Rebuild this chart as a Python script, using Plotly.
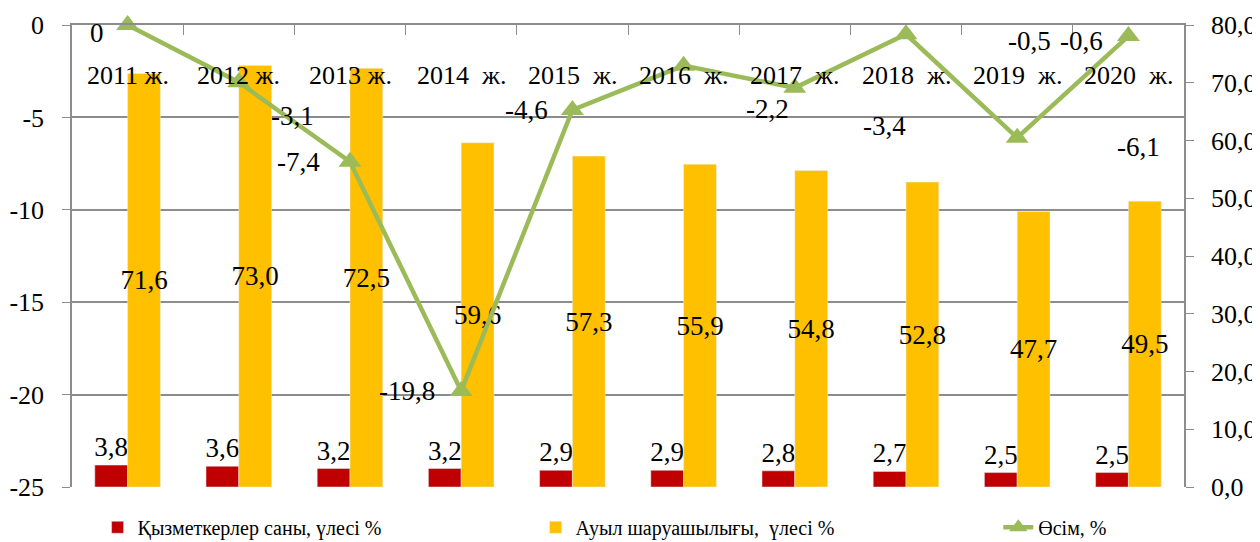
import plotly.graph_objects as go

# categories and series
YEARS = ["2011 ж.", "2012 ж.", "2013 ж.", "2014  ж.", "2015  ж.",
         "2016  ж.", "2017  ж.", "2018  ж.", "2019  ж.", "2020  ж."]
STAFF_SHARE = [3.8, 3.6, 3.2, 3.2, 2.9, 2.9, 2.8, 2.7, 2.5, 2.5]
AGRI_SHARE = [71.6, 73.0, 72.5, 59.6, 57.3, 55.9, 54.8, 52.8, 47.7, 49.5]
GROWTH = [0, -3.1, -7.4, -19.8, -4.6, -2.2, -3.4, -0.5, -6.1, -0.6]

LEFT_TICKS = [0, -5, -10, -15, -20, -25]
LEFT_TICKTEXT = ["0", "-5", "-10", "-15", "-20", "-25"]

# label offsets for the growth line labels (px, as placed in the source)
LABEL_DX = [-31, 54, -52, -54, -46, 84, 90, 123, 121, -47]
LABEL_DY = [8, 34, 0, 0, 0, 43, 38, 7, 9, 5]

FONT = "Liberation Serif, Times New Roman, serif"
RED = "#C00000"
YELLOW = "#FFC000"
GREEN = "#9BBB59"
GRID = "#8C8C8C"


def _fmt(v):
    if v == 0:
        return "0"
    return f"{v:.1f}".replace(".", ",")


fig = go.Figure()

fig.add_trace(go.Bar(
    x=YEARS, y=STAFF_SHARE, name="Қызметкерлер саны, үлесі %",
    marker_color=RED, yaxis="y",
    texttemplate="%{y:.1f}", textposition="outside", textangle=0,
    constraintext="none", cliponaxis=False,
    outsidetextfont=dict(family=FONT, size=27, color="black"),
))
fig.add_trace(go.Bar(
    x=YEARS, y=AGRI_SHARE, name="Ауыл шаруашылығы,  үлесі %",
    marker_color=YELLOW, yaxis="y",
    texttemplate="%{y:.1f}", textposition="inside", insidetextanchor="middle",
    textangle=0, constraintext="none", cliponaxis=False,
    insidetextfont=dict(family=FONT, size=27, color="black"),
))
fig.add_trace(go.Scatter(
    x=YEARS, y=GROWTH, name="Өсім, %", yaxis="y2", legend="legend2",
    mode="lines+markers", cliponaxis=False,
    line=dict(color=GREEN, width=4.5),
    marker=dict(symbol="triangle-up", size=20, color=GREEN),
))

# growth labels
for yr, v, dx, dy in zip(YEARS, GROWTH, LABEL_DX, LABEL_DY):
    fig.add_annotation(
        x=yr, y=v, xref="x", yref="y2", text=_fmt(v), showarrow=False,
        xshift=dx, yshift=-dy, font=dict(family=FONT, size=27, color="black"),
    )

# category labels sit just under the top axis line
for yr in YEARS:
    fig.add_annotation(
        x=yr, y=1, xref="x", yref="paper", yanchor="middle", text=yr,
        showarrow=False, yshift=-50, font=dict(family=FONT, size=26, color="black"),
    )

legend_style = dict(
    orientation="h", y=-0.045, xanchor="left", yanchor="top",
    font=dict(family=FONT, size=20), bgcolor="rgba(0,0,0,0)",
)

# the page body adds an 8px offset, so the figure is 8px smaller
fig.update_layout(
    width=1252, height=534,
    margin=dict(l=64, r=76, t=17, b=55, autoexpand=False),
    paper_bgcolor="white", plot_bgcolor="white",
    separators=",.",
    font=dict(family=FONT, color="black"),
    barmode="group", bargap=0.41, bargroupgap=0,
    showlegend=True,
    legend=dict(x=0.023, entrywidth=393, entrywidthmode="pixels",
                traceorder="normal", **legend_style),
    legend2=dict(x=0.833, **legend_style),
    xaxis=dict(
        side="top", type="category", range=[-0.5, len(YEARS) - 0.5],
        tickson="boundaries",
        ticks="inside", ticklen=10, tickcolor=GRID, showticklabels=False,
        showline=True, linecolor=GRID, linewidth=1.5, showgrid=False,
    ),
    yaxis=dict(
        side="right", range=[0, 80], dtick=10, tickformat=".1f",
        showgrid=False, zeroline=False,
        showline=True, linecolor=GRID, linewidth=1.5,
        ticks="outside", ticklen=8, tickcolor=GRID, ticklabelstandoff=12,
        tickfont=dict(family=FONT, size=26),
    ),
    yaxis2=dict(
        side="left", overlaying="y", range=[-25, 0],
        tickvals=LEFT_TICKS, ticktext=LEFT_TICKTEXT,
        showgrid=True, gridcolor=GRID, gridwidth=1.5, zeroline=False,
        showline=True, linecolor=GRID, linewidth=1.5,
        ticks="outside", ticklen=8, tickcolor=GRID, ticklabelstandoff=13,
        tickfont=dict(family=FONT, size=26),
    ),
)

fig.write_html("out.html")
